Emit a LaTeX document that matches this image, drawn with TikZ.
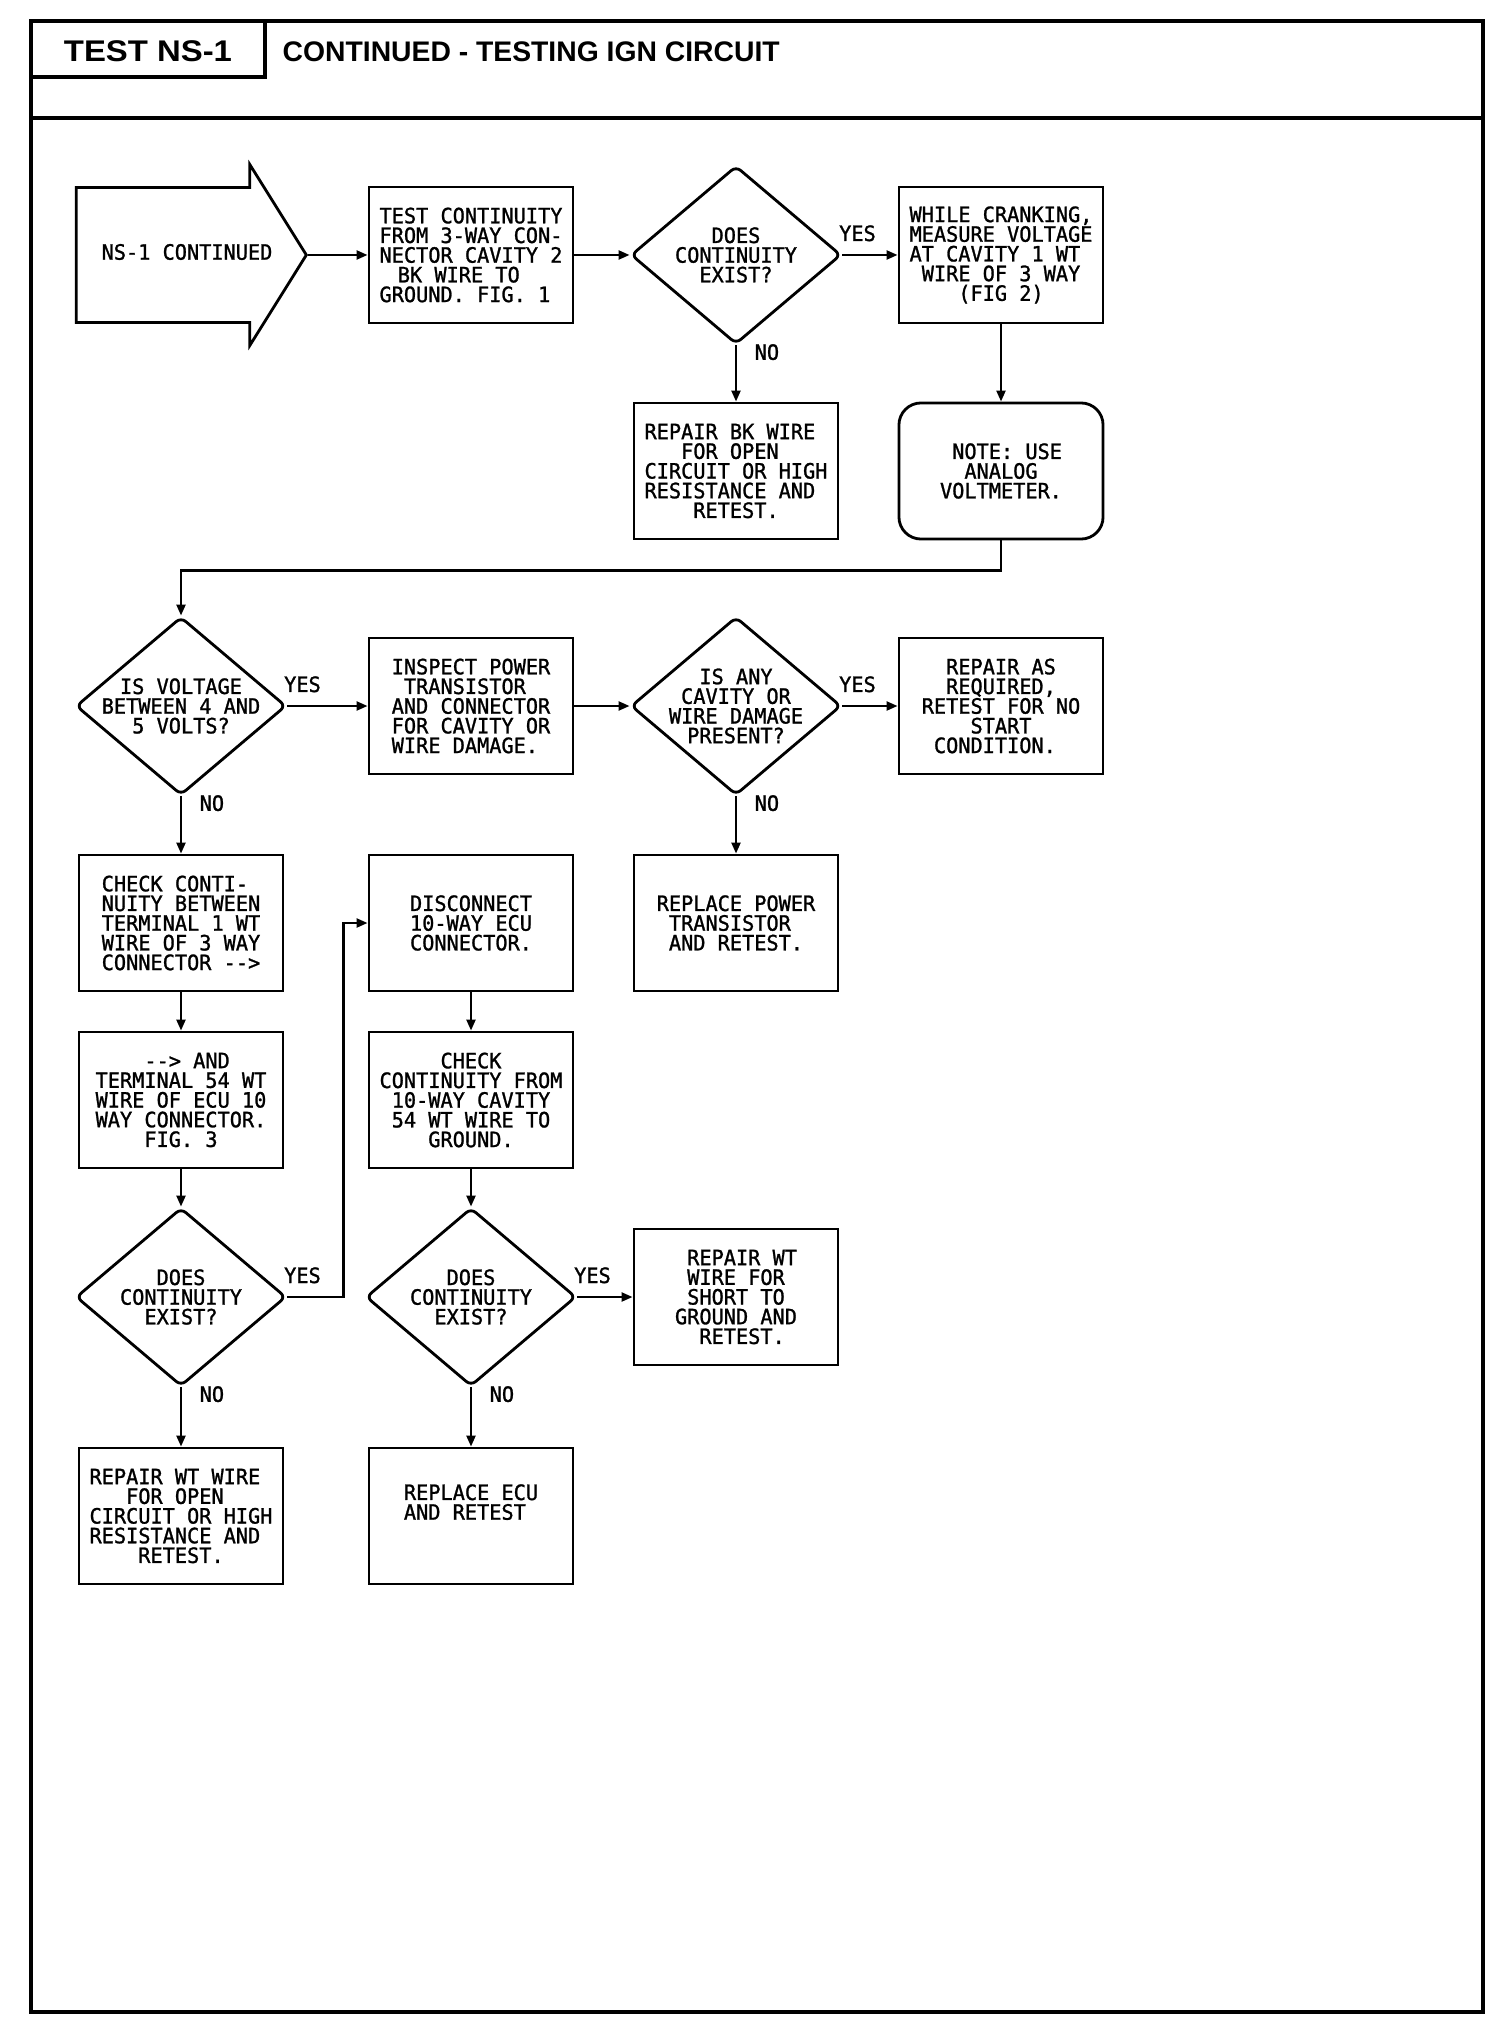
\documentclass[tikz,border=0pt]{standalone}
\usepackage{fontspec}
\usetikzlibrary{shapes.geometric,shapes.arrows,arrows.meta}

\newfontfamily\plotfont[FakeStretch=0.96,FakeBold=1.2]{DejaVu Sans Mono}
\newfontfamily\headfont{Liberation Sans}
\newfontfamily\headwide[FakeStretch=1.1]{Liberation Sans}
\newcommand\plottxt{\plotfont\fontsize{6}{5.6}\selectfont}
\newcommand\sgap[1]{\hspace*{#1\fontcharwd\font`0}}

\begin{document}
\begin{tikzpicture}[x=0.01cm, y=-0.01cm,
  frame/.style={line width=1pt},
  act/.style={draw, line width=0.8pt, minimum width=2.04cm, minimum height=1.36cm,
    align=left, inner sep=0pt, font=\plottxt},
  memo/.style={act, rounded corners=0.22cm},
  ask/.style={diamond, draw, line width=0.8pt, rounded corners=0.06cm, aspect=1.18,
    minimum width=2.10cm, minimum height=1.78cm, inner xsep=-0.08cm, inner ysep=0pt,
    align=center, font=\plottxt},
  flag/.style={single arrow, draw, line width=0.8pt, minimum height=2.30cm,
    single arrow head extend=0.23cm, single arrow tip angle=116,
    inner xsep=0pt, inner ysep=0.66cm},
  link/.style={line width=0.65pt, -{Triangle[length=0.11cm,width=0.09cm]}},
  ans/.style={font=\plottxt, inner sep=0pt}]

\useasboundingbox (0,0) rectangle (1504,2028);

% Cornice e testata
\draw[frame] (31,21) rectangle (1483,2012);
\draw[frame] (31,118) -- (1483,118);
\draw[frame] (265,21) -- (265,77) -- (31,77);
\node[font=\headwide\bfseries\fontsize{8.5}{10}\selectfont, anchor=base, inner sep=0pt]
  (tag) at (148,62) {TEST NS-1};
\node[font=\headfont\bfseries\fontsize{8.05}{9.5}\selectfont, anchor=base west, inner sep=0pt]
  (title) at (282,62) {CONTINUED - TESTING IGN CIRCUIT};

% Prima riga
\node[flag, anchor=tip] (start) at (308,255) {};
\node[ans] (startlbl) at (187,252) {NS-1 CONTINUED};
\node[act] (bk) at (471,255) {TEST CONTINUITY\\FROM 3-WAY CON-\\NECTOR CAVITY 2\\
  \sgap{1.5}BK WIRE TO\\GROUND. FIG. 1};
\node[ask] (contA) at (736,255) {DOES\\CONTINUITY\\EXIST?};
\node[act] (crank) at (1001,255) {WHILE CRANKING,\\MEASURE VOLTAGE\\AT CAVITY 1 WT\\
  \sgap{1}WIRE OF 3 WAY\\\sgap{4}(FIG 2)};
\node[act] (fixbk) at (736,471) {REPAIR BK WIRE\\\sgap{3}FOR OPEN\\CIRCUIT OR HIGH\\
  RESISTANCE AND\\\sgap{4}RETEST.};
\node[memo] (hint) at (1001,471) {\sgap{1}NOTE: USE\\\sgap{2}ANALOG\\VOLTMETER.};

% Seconda riga
\node[ask] (volts) at (181,706) {IS VOLTAGE\\BETWEEN 4 AND\\5 VOLTS?};
\node[act] (look) at (471,706) {INSPECT POWER\\\sgap{1}TRANSISTOR\\AND CONNECTOR\\
  FOR CAVITY OR\\WIRE DAMAGE.};
\node[ask] (harm) at (736,706) {IS ANY\\CAVITY OR\\WIRE DAMAGE\\PRESENT?};
\node[act] (fixany) at (1001,706) {\sgap{2}REPAIR AS\\\sgap{2}REQUIRED,\\RETEST FOR NO\\
  \sgap{4}START\\\sgap{1}CONDITION.};

% Terza e quarta riga
\node[act] (chkA) at (181,923) {CHECK CONTI-\\NUITY BETWEEN\\TERMINAL 1 WT\\
  WIRE OF 3 WAY\\CONNECTOR -{}->};
\node[act] (unplug) at (471,923) {DISCONNECT\\10-WAY ECU\\CONNECTOR.};
\node[act] (newpt) at (736,923) {REPLACE POWER\\\sgap{1}TRANSISTOR\\\sgap{1}AND RETEST.};
\node[act] (chkB) at (181,1100) {\sgap{4}-{}-> AND\\TERMINAL 54 WT\\WIRE OF ECU 10\\
  WAY CONNECTOR.\\\sgap{4}FIG. 3};
\node[act] (chkC) at (471,1100) {\sgap{5}CHECK\\CONTINUITY FROM\\\sgap{1}10-WAY CAVITY\\
  \sgap{1}54 WT WIRE TO\\\sgap{4}GROUND.};

% Quinta e sesta riga
\node[ask] (contB) at (181,1297) {DOES\\CONTINUITY\\EXIST?};
\node[ask] (contC) at (471,1297) {DOES\\CONTINUITY\\EXIST?};
\node[act] (fixshort) at (736,1297) {\sgap{1}REPAIR WT\\\sgap{1}WIRE FOR\\\sgap{1}SHORT TO\\
  GROUND AND\\\sgap{2}RETEST.};
\node[act] (fixopen) at (181,1516) {REPAIR WT WIRE\\\sgap{3}FOR OPEN\\CIRCUIT OR HIGH\\
  RESISTANCE AND\\\sgap{4}RETEST.};
\node[act, text depth=0.28cm] (newecu) at (471,1516) {REPLACE ECU\\AND RETEST};

% Collegamenti
\draw[link] (start.tip) -- (bk.west);
\draw[link] (bk.east) -- (contA.west);
\draw[link] (contA.east) -- (crank.west);
\draw[link] (contA.south) -- (fixbk.north);
\draw[link] (crank.south) -- (hint.north);
\draw[link] (hint.south) -- ++(0,30) -| (volts.north);
\draw[link] (volts.east) -- (look.west);
\draw[link] (volts.south) -- (chkA.north);
\draw[link] (look.east) -- (harm.west);
\draw[link] (harm.east) -- (fixany.west);
\draw[link] (harm.south) -- (newpt.north);
\draw[link] (chkA.south) -- (chkB.north);
\draw[link] (chkB.south) -- (contB.north);
\draw[link] (contB.east) -- ++(56,0) |- (unplug.west);
\draw[link] (contB.south) -- (fixopen.north);
\draw[link] (unplug.south) -- (chkC.north);
\draw[link] (chkC.south) -- (contC.north);
\draw[link] (contC.east) -- (fixshort.west);
\draw[link] (contC.south) -- (newecu.north);

% Risposte
\node[ans, anchor=south west] (yesA) at ([xshift=-0.04cm,yshift=0.13cm]contA.east) {YES};
\node[ans, anchor=north west] (noA) at ([xshift=0.18cm,yshift=0.02cm]contA.south) {NO};
\node[ans, anchor=south west] (yesV) at ([xshift=-0.04cm,yshift=0.13cm]volts.east) {YES};
\node[ans, anchor=north west] (noV) at ([xshift=0.18cm,yshift=0.02cm]volts.south) {NO};
\node[ans, anchor=south west] (yesH) at ([xshift=-0.04cm,yshift=0.13cm]harm.east) {YES};
\node[ans, anchor=north west] (noH) at ([xshift=0.18cm,yshift=0.02cm]harm.south) {NO};
\node[ans, anchor=south west] (yesB) at ([xshift=-0.04cm,yshift=0.13cm]contB.east) {YES};
\node[ans, anchor=north west] (noB) at ([xshift=0.18cm,yshift=0.02cm]contB.south) {NO};
\node[ans, anchor=south west] (yesC) at ([xshift=-0.04cm,yshift=0.13cm]contC.east) {YES};
\node[ans, anchor=north west] (noC) at ([xshift=0.18cm,yshift=0.02cm]contC.south) {NO};

\end{tikzpicture}
\end{document}
